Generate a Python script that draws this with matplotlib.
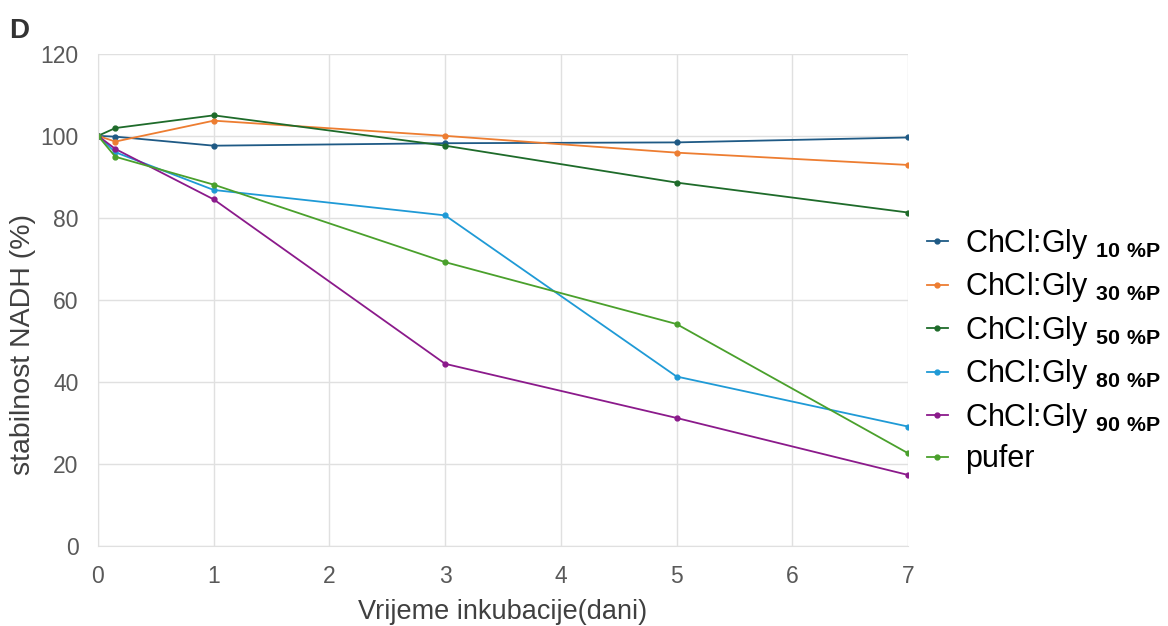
import matplotlib.pyplot as plt
from matplotlib.lines import Line2D

plt.rcParams["font.family"] = ["Liberation Sans", "DejaVu Sans"]
plt.rcParams["mathtext.fontset"] = "custom"
plt.rcParams["mathtext.rm"] = "Liberation Sans"
plt.rcParams["mathtext.bf"] = "Liberation Sans:bold"

# ---------------- Data ----------------
days = [0, 0.15, 1, 3, 5, 7]
gly_10 = [100, 99.8, 97.6, 98.2, 98.4, 99.6]
gly_30 = [100, 98.6, 103.7, 100.0, 95.9, 92.9]
gly_50 = [100, 101.9, 105.0, 97.6, 88.6, 81.3]
gly_80 = [100, 96.0, 86.8, 80.6, 41.3, 29.1]
gly_90 = [100, 96.8, 84.5, 44.4, 31.2, 17.3]
pufer = [100, 94.9, 88.1, 69.2, 54.1, 22.6]

series = [
    (gly_10, "10", "#1f5a85"),
    (gly_30, "30", "#ed7d31"),
    (gly_50, "50", "#1e6b2a"),
    (gly_80, "80", "#1f9ad6"),
    (gly_90, "90", "#8b1a8b"),
]
PUFER_COLOR = "#4aa02c"
GRID = "#e0e0e0"
TICK = "#595959"
LW, MS = 1.3, 3.5

fig = plt.figure(figsize=(11.68, 6.26), dpi=100)
ax = fig.add_axes([0.0839, 0.128, 0.6935, 0.786])

handles = []
for vals, pct, col in series:
    ax.plot(days, vals, color=col, lw=LW, marker="o", ms=MS)
    handles.append(Line2D([0], [0], color=col, lw=LW, marker="o", ms=MS,
                          label=r"ChCl:Gly $_{\mathbf{" + pct + r"\ \%P}}$"))
ax.plot(days, pufer, color=PUFER_COLOR, lw=LW, marker="o", ms=MS)
handles.append(Line2D([0], [0], color=PUFER_COLOR, lw=LW, marker="o", ms=MS,
                      label="pufer"))

ax.set_xlim(0, 7)
ax.set_ylim(0, 120)
ax.set_xticks(range(0, 8))
ax.set_yticks(range(0, 121, 20))
ax.grid(True, color=GRID, lw=1.0)
ax.set_axisbelow(True)
for s in ["top", "right"]:
    ax.spines[s].set_visible(False)
for s in ["left", "bottom"]:
    ax.spines[s].set_color(GRID)
ax.tick_params(length=0, labelsize=16.5, colors=TICK, pad=14)

ax.set_xlabel("Vrijeme inkubacije(dani)", fontsize=19.5, color="#404040", labelpad=8)
ax.set_ylabel("stabilnost NADH (%)", fontsize=20.5, color="#404040")
ax.yaxis.set_label_coords(-0.076, 0.41)

fig.text(0.008, 0.94, "D", fontsize=20, weight="bold", color="#333333")

fig.legend(handles=handles, loc="upper left", bbox_to_anchor=(0.783, 0.657),
           frameon=False, fontsize=22, handlelength=0.7, handletextpad=0.55,
           labelspacing=0.31, borderaxespad=0)

fig.savefig("out.png", dpi=100)
